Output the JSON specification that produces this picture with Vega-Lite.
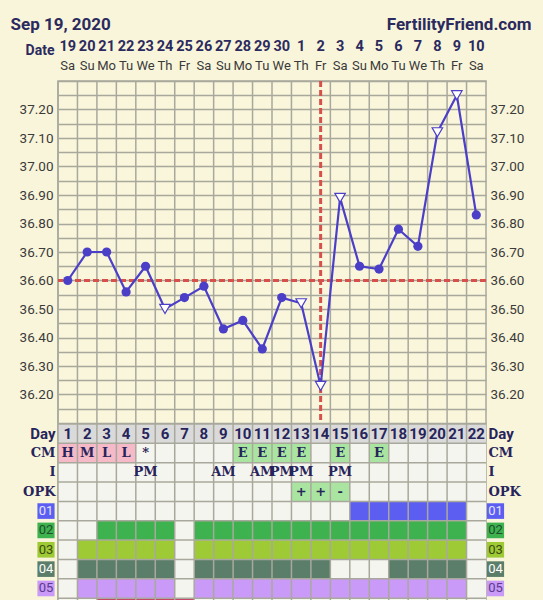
{
  "$schema": "https://vega.github.io/schema/vega-lite/v6.json",
  "width": 428,
  "height": 519,
  "autosize": {"type": "none"},
  "padding": {"left": 58, "top": 81, "right": 57, "bottom": 0},
  "background": "#f9f5da",
  "config": {"view": {"fill": "#faf6dc", "stroke": "#a9a89c", "strokeWidth": 1.5}, "text": {"font": "Roboto"}},
  "datasets": {
    "temps": [
      {"day": 1, "temp": 36.60, "m": "c"}, {"day": 2, "temp": 36.70, "m": "c"}, {"day": 3, "temp": 36.70, "m": "c"},
      {"day": 4, "temp": 36.56, "m": "c"}, {"day": 5, "temp": 36.65, "m": "c"}, {"day": 6, "temp": 36.50, "m": "t"},
      {"day": 7, "temp": 36.54, "m": "c"}, {"day": 8, "temp": 36.58, "m": "c"}, {"day": 9, "temp": 36.43, "m": "c"},
      {"day": 10, "temp": 36.46, "m": "c"}, {"day": 11, "temp": 36.36, "m": "c"}, {"day": 12, "temp": 36.54, "m": "c"},
      {"day": 13, "temp": 36.52, "m": "t"}, {"day": 14, "temp": 36.23, "m": "t"}, {"day": 15, "temp": 36.89, "m": "t"},
      {"day": 16, "temp": 36.65, "m": "c"}, {"day": 17, "temp": 36.64, "m": "c"}, {"day": 18, "temp": 36.78, "m": "c"},
      {"day": 19, "temp": 36.72, "m": "c"}, {"day": 20, "temp": 37.12, "m": "t"}, {"day": 21, "temp": 37.25, "m": "t"},
      {"day": 22, "temp": 36.83, "m": "c"}
    ],
    "days": [
      {"day": 1, "date": "19", "wd": "Sa"}, {"day": 2, "date": "20", "wd": "Su"}, {"day": 3, "date": "21", "wd": "Mo"},
      {"day": 4, "date": "22", "wd": "Tu"}, {"day": 5, "date": "23", "wd": "We"}, {"day": 6, "date": "24", "wd": "Th"},
      {"day": 7, "date": "25", "wd": "Fr"}, {"day": 8, "date": "26", "wd": "Sa"}, {"day": 9, "date": "27", "wd": "Su"},
      {"day": 10, "date": "28", "wd": "Mo"}, {"day": 11, "date": "29", "wd": "Tu"}, {"day": 12, "date": "30", "wd": "We"},
      {"day": 13, "date": "1", "wd": "Th"}, {"day": 14, "date": "2", "wd": "Fr"}, {"day": 15, "date": "3", "wd": "Sa"},
      {"day": 16, "date": "4", "wd": "Su"}, {"day": 17, "date": "5", "wd": "Mo"}, {"day": 18, "date": "6", "wd": "Tu"},
      {"day": 19, "date": "7", "wd": "We"}, {"day": 20, "date": "8", "wd": "Th"}, {"day": 21, "date": "9", "wd": "Fr"},
      {"day": 22, "date": "10", "wd": "Sa"}
    ],
    "rows": [
      {"row": "Day"}, {"row": "CM"}, {"row": "I"}, {"row": "OPK"}, {"row": "01"},
      {"row": "02"}, {"row": "03"}, {"row": "04"}, {"row": "05"}, {"row": "06"}
    ],
    "cover": [{"temp": 36.6}],
    "ovul": [{"day": 14}],
    "cells": [
      {"row": "CM", "day": 1, "k": "H"}, {"row": "CM", "day": 2, "k": "M"}, {"row": "CM", "day": 3, "k": "L"}, {"row": "CM", "day": 4, "k": "L"},
      {"row": "CM", "day": 10, "k": "E"}, {"row": "CM", "day": 11, "k": "E"}, {"row": "CM", "day": 12, "k": "E"}, {"row": "CM", "day": 13, "k": "E"},
      {"row": "CM", "day": 15, "k": "E"}, {"row": "CM", "day": 17, "k": "E"},
      {"row": "OPK", "day": 13, "k": "+"}, {"row": "OPK", "day": 14, "k": "+"}, {"row": "OPK", "day": 15, "k": "-"},
      {"row": "01", "day": 16, "k": "01"}, {"row": "01", "day": 17, "k": "01"}, {"row": "01", "day": 18, "k": "01"},
      {"row": "01", "day": 19, "k": "01"}, {"row": "01", "day": 20, "k": "01"}, {"row": "01", "day": 21, "k": "01"},
      {"row": "02", "day": 3, "k": "02"}, {"row": "02", "day": 4, "k": "02"}, {"row": "02", "day": 5, "k": "02"}, {"row": "02", "day": 6, "k": "02"},
      {"row": "02", "day": 8, "k": "02"}, {"row": "02", "day": 9, "k": "02"}, {"row": "02", "day": 10, "k": "02"}, {"row": "02", "day": 11, "k": "02"},
      {"row": "02", "day": 12, "k": "02"}, {"row": "02", "day": 13, "k": "02"}, {"row": "02", "day": 14, "k": "02"}, {"row": "02", "day": 15, "k": "02"},
      {"row": "02", "day": 16, "k": "02"}, {"row": "02", "day": 17, "k": "02"}, {"row": "02", "day": 18, "k": "02"}, {"row": "02", "day": 19, "k": "02"},
      {"row": "02", "day": 20, "k": "02"}, {"row": "02", "day": 21, "k": "02"},
      {"row": "03", "day": 2, "k": "03"}, {"row": "03", "day": 3, "k": "03"}, {"row": "03", "day": 4, "k": "03"}, {"row": "03", "day": 5, "k": "03"},
      {"row": "03", "day": 6, "k": "03"}, {"row": "03", "day": 8, "k": "03"}, {"row": "03", "day": 9, "k": "03"}, {"row": "03", "day": 10, "k": "03"},
      {"row": "03", "day": 11, "k": "03"}, {"row": "03", "day": 12, "k": "03"}, {"row": "03", "day": 13, "k": "03"}, {"row": "03", "day": 14, "k": "03"},
      {"row": "03", "day": 15, "k": "03"}, {"row": "03", "day": 16, "k": "03"}, {"row": "03", "day": 17, "k": "03"}, {"row": "03", "day": 18, "k": "03"},
      {"row": "03", "day": 19, "k": "03"}, {"row": "03", "day": 20, "k": "03"}, {"row": "03", "day": 21, "k": "03"},
      {"row": "04", "day": 2, "k": "04"}, {"row": "04", "day": 3, "k": "04"}, {"row": "04", "day": 4, "k": "04"}, {"row": "04", "day": 5, "k": "04"},
      {"row": "04", "day": 6, "k": "04"}, {"row": "04", "day": 8, "k": "04"}, {"row": "04", "day": 9, "k": "04"}, {"row": "04", "day": 10, "k": "04"},
      {"row": "04", "day": 11, "k": "04"}, {"row": "04", "day": 12, "k": "04"}, {"row": "04", "day": 13, "k": "04"}, {"row": "04", "day": 14, "k": "04"},
      {"row": "04", "day": 18, "k": "04"}, {"row": "04", "day": 19, "k": "04"}, {"row": "04", "day": 20, "k": "04"}, {"row": "04", "day": 21, "k": "04"},
      {"row": "05", "day": 2, "k": "05"}, {"row": "05", "day": 3, "k": "05"}, {"row": "05", "day": 4, "k": "05"}, {"row": "05", "day": 5, "k": "05"},
      {"row": "05", "day": 6, "k": "05"}, {"row": "05", "day": 8, "k": "05"}, {"row": "05", "day": 9, "k": "05"}, {"row": "05", "day": 10, "k": "05"},
      {"row": "05", "day": 11, "k": "05"}, {"row": "05", "day": 12, "k": "05"}, {"row": "05", "day": 13, "k": "05"}, {"row": "05", "day": 14, "k": "05"},
      {"row": "05", "day": 15, "k": "05"}, {"row": "05", "day": 16, "k": "05"}, {"row": "05", "day": 17, "k": "05"}, {"row": "05", "day": 18, "k": "05"},
      {"row": "05", "day": 19, "k": "05"}, {"row": "05", "day": 20, "k": "05"}, {"row": "05", "day": 21, "k": "05"},
      {"row": "06", "day": 3, "k": "06"}, {"row": "06", "day": 4, "k": "06"}, {"row": "06", "day": 5, "k": "06"}, {"row": "06", "day": 6, "k": "06"},
      {"row": "06", "day": 7, "k": "06"}
    ],
    "texts": [
      {"row": "CM", "day": 1, "t": "H"}, {"row": "CM", "day": 2, "t": "M"}, {"row": "CM", "day": 3, "t": "L"}, {"row": "CM", "day": 4, "t": "L"},
      {"row": "CM", "day": 5, "t": "*"}, {"row": "CM", "day": 10, "t": "E"}, {"row": "CM", "day": 11, "t": "E"}, {"row": "CM", "day": 12, "t": "E"},
      {"row": "CM", "day": 13, "t": "E"}, {"row": "CM", "day": 15, "t": "E"}, {"row": "CM", "day": 17, "t": "E"},
      {"row": "I", "day": 5, "t": "PM"}, {"row": "I", "day": 9, "t": "AM"}, {"row": "I", "day": 11, "t": "AM"}, {"row": "I", "day": 12, "t": "PM"},
      {"row": "I", "day": 13, "t": "PM"}, {"row": "I", "day": 15, "t": "PM"},
      {"row": "OPK", "day": 13, "t": "+"}, {"row": "OPK", "day": 14, "t": "+"}, {"row": "OPK", "day": 15, "t": "-"}
    ],
    "badges": [
      {"row": "01", "side": "L"}, {"row": "02", "side": "L"}, {"row": "03", "side": "L"}, {"row": "04", "side": "L"}, {"row": "05", "side": "L"},
      {"row": "01", "side": "R"}, {"row": "02", "side": "R"}, {"row": "03", "side": "R"}, {"row": "04", "side": "R"}, {"row": "05", "side": "R"}
    ]
  },
  "resolve": {"scale": {"x": "independent", "y": "independent", "color": "independent"}, "axis": {"x": "independent", "y": "independent"}},
  "layer": [
    {
      "data": {"name": "rows"},
      "mark": {"type": "rect"},
      "encoding": {
        "y": {"field": "row", "type": "nominal",
          "scale": {"type": "band", "domain": ["Day", "CM", "I", "OPK", "01", "02", "03", "04", "05", "06"], "range": [343, 536.5], "paddingInner": 0, "paddingOuter": 0},
          "axis": {"orient": "left", "ticks": false, "domain": false, "grid": false, "title": null, "labelOverlap": false,
            "labelExpr": "indexof(['01','02','03','04','05','06'], datum.value) >= 0 ? '' : datum.value",
            "labelFont": {"condition": {"test": "datum.value == 'Day'", "value": "Roboto"}, "value": "DejaVu Serif"},
            "labelFontSize": {"condition": {"test": "datum.value == 'Day'", "value": 15}, "value": 13},
            "labelFontWeight": "bold", "labelColor": "#26245a", "labelPadding": 3}},
        "color": {"condition": {"test": "datum.row == 'Day'", "value": "#dadada"}, "value": "#f5f5ef"}
      }
    },
    {
      "data": {"name": "cells"},
      "mark": {"type": "rect"},
      "encoding": {
        "x": {"field": "day", "type": "ordinal", "scale": {"type": "band", "domain": [1,2,3,4,5,6,7,8,9,10,11,12,13,14,15,16,17,18,19,20,21,22], "paddingInner": 0, "paddingOuter": 0}, "axis": null},
        "y": {"field": "row", "type": "nominal",
          "scale": {"type": "band", "domain": ["Day", "CM", "I", "OPK", "01", "02", "03", "04", "05", "06"], "range": [343, 536.5], "paddingInner": 0, "paddingOuter": 0},
          "axis": null},
        "color": {"field": "k", "type": "nominal", "legend": null,
          "scale": {"domain": ["H", "M", "L", "E", "+", "-", "01", "02", "03", "04", "05", "06"],
            "range": ["#f5b9c7", "#f5b9c7", "#f5b9c7", "#a9e5a0", "#a9e5a0", "#a9e5a0", "#5c5ef2", "#3db24f", "#9dca35", "#5b7e6b", "#c99af7", "#c8466a"]}}
      }
    },
    {
      "data": {"name": "days"},
      "mark": {"type": "rule", "color": "#a9a89c", "strokeWidth": 1.5},
      "encoding": {
        "x": {"field": "day", "type": "ordinal", "bandPosition": 0,
          "scale": {"type": "band", "domain": [1,2,3,4,5,6,7,8,9,10,11,12,13,14,15,16,17,18,19,20,21,22], "paddingInner": 0, "paddingOuter": 0}, "axis": null}
      }
    },
    {
      "data": {"name": "rows"},
      "mark": {"type": "rule", "color": "#a9a89c", "strokeWidth": 1.5},
      "encoding": {
        "y": {"field": "row", "type": "nominal", "bandPosition": 0,
          "scale": {"type": "band", "domain": ["Day", "CM", "I", "OPK", "01", "02", "03", "04", "05", "06"], "range": [343, 536.5], "paddingInner": 0, "paddingOuter": 0},
          "axis": {"orient": "right", "ticks": false, "domain": false, "grid": false, "title": null, "labelOverlap": false,
            "labelExpr": "indexof(['01','02','03','04','05','06'], datum.value) >= 0 ? '' : datum.value",
            "labelFont": {"condition": {"test": "datum.value == 'Day'", "value": "Roboto"}, "value": "DejaVu Serif"},
            "labelFontSize": {"condition": {"test": "datum.value == 'Day'", "value": 15}, "value": 13},
            "labelFontWeight": "bold", "labelColor": "#26245a", "labelPadding": 2}}
      }
    },
    {
      "data": {"name": "days"},
      "mark": {"type": "text", "font": "Roboto", "fontWeight": "bold", "fontSize": 15, "color": "#26245a", "baseline": "middle"},
      "encoding": {
        "x": {"field": "day", "type": "ordinal",
          "scale": {"type": "band", "domain": [1,2,3,4,5,6,7,8,9,10,11,12,13,14,15,16,17,18,19,20,21,22], "paddingInner": 0, "paddingOuter": 0}, "axis": null},
        "y": {"datum": "Day", "type": "nominal",
          "scale": {"type": "band", "domain": ["Day", "CM", "I", "OPK", "01", "02", "03", "04", "05", "06"], "range": [343, 536.5], "paddingInner": 0, "paddingOuter": 0},
          "axis": null},
        "text": {"field": "day", "type": "nominal"}
      }
    },
    {
      "data": {"name": "texts"},
      "mark": {"type": "text", "font": "DejaVu Serif", "fontWeight": "bold", "fontSize": 13, "color": "#26245a", "baseline": "middle"},
      "encoding": {
        "x": {"field": "day", "type": "ordinal",
          "scale": {"type": "band", "domain": [1,2,3,4,5,6,7,8,9,10,11,12,13,14,15,16,17,18,19,20,21,22], "paddingInner": 0, "paddingOuter": 0}, "axis": null},
        "y": {"field": "row", "type": "nominal",
          "scale": {"type": "band", "domain": ["Day", "CM", "I", "OPK", "01", "02", "03", "04", "05", "06"], "range": [343, 536.5], "paddingInner": 0, "paddingOuter": 0},
          "axis": null},
        "text": {"field": "t", "type": "nominal"}
      }
    },
    {
      "data": {"name": "cover"},
      "mark": {"type": "rule", "color": "#d6504c", "strokeWidth": 3, "strokeDash": [6, 3]},
      "encoding": {
        "y": {"field": "temp", "type": "quantitative",
          "scale": {"type": "linear", "domain": [36.1, 37.3], "range": [342, 0], "nice": false, "zero": false},
          "axis": {"orient": "left", "values": [36.1, 36.15, 36.2, 36.25, 36.3, 36.35, 36.4, 36.45, 36.5, 36.55, 36.6, 36.65, 36.7, 36.75, 36.8, 36.85, 36.9, 36.95, 37.0, 37.05, 37.1, 37.15, 37.2, 37.25, 37.3],
            "grid": true, "gridColor": "#a9a89c", "gridWidth": 1.5, "ticks": false, "domain": false, "title": null,
            "labelOverlap": false, "labelFlush": false,
            "labelExpr": "(datum.value > 36.15 && datum.value < 37.25 && abs(datum.value * 10 - round(datum.value * 10)) < 0.01) ? format(datum.value, '.2f') : ''",
            "labelFont": "Roboto", "labelFontSize": 13.5, "labelColor": "#3b3b3b", "labelPadding": 5}}
      }
    },
    {
      "data": {"name": "ovul"},
      "mark": {"type": "rule", "color": "#d6504c", "strokeWidth": 3, "strokeDash": [6, 3]},
      "encoding": {
        "x": {"field": "day", "type": "ordinal",
          "scale": {"type": "band", "domain": [1,2,3,4,5,6,7,8,9,10,11,12,13,14,15,16,17,18,19,20,21,22], "paddingInner": 0, "paddingOuter": 0}, "axis": null},
        "y": {"datum": 37.3, "type": "quantitative",
          "scale": {"type": "linear", "domain": [36.1, 37.3], "range": [342, 0], "nice": false, "zero": false}, "axis": null},
        "y2": {"datum": 36.1}
      }
    },
    {
      "data": {"name": "temps"},
      "mark": {"type": "line", "color": "#4b3fc8", "strokeWidth": 2.2},
      "encoding": {
        "x": {"field": "day", "type": "ordinal",
          "scale": {"type": "band", "domain": [1,2,3,4,5,6,7,8,9,10,11,12,13,14,15,16,17,18,19,20,21,22], "paddingInner": 0, "paddingOuter": 0},
          "axis": {"orient": "top", "labels": false, "ticks": false, "domain": false, "grid": false,
            "title": "FertilityFriend.com", "titleX": 473, "titleY": -52, "titleAlign": "right", "titleBaseline": "alphabetic",
            "titleFont": "Roboto", "titleFontSize": 17, "titleFontWeight": "bold", "titleColor": "#2b2a5e"}},
        "y": {"field": "temp", "type": "quantitative",
          "scale": {"type": "linear", "domain": [36.1, 37.3], "range": [342, 0], "nice": false, "zero": false}, "axis": null}
      }
    },
    {
      "data": {"name": "temps"},
      "transform": [{"filter": "datum.m == 'c'"}],
      "mark": {"type": "point", "shape": "circle", "filled": true, "color": "#4b3fc8", "size": 85, "opacity": 1},
      "encoding": {
        "x": {"field": "day", "type": "ordinal",
          "scale": {"type": "band", "domain": [1,2,3,4,5,6,7,8,9,10,11,12,13,14,15,16,17,18,19,20,21,22], "paddingInner": 0, "paddingOuter": 0}, "axis": null},
        "y": {"field": "temp", "type": "quantitative",
          "scale": {"type": "linear", "domain": [36.1, 37.3], "range": [342, 0], "nice": false, "zero": false}, "axis": null}
      }
    },
    {
      "data": {"name": "temps"},
      "transform": [{"filter": "datum.m == 't'"}],
      "mark": {"type": "point", "shape": "triangle-down", "filled": true, "fill": "#ffffff", "stroke": "#4b3fc8", "strokeWidth": 1.2, "size": 110, "opacity": 1},
      "encoding": {
        "x": {"field": "day", "type": "ordinal",
          "scale": {"type": "band", "domain": [1,2,3,4,5,6,7,8,9,10,11,12,13,14,15,16,17,18,19,20,21,22], "paddingInner": 0, "paddingOuter": 0}, "axis": null},
        "y": {"field": "temp", "type": "quantitative",
          "scale": {"type": "linear", "domain": [36.1, 37.3], "range": [342, 0], "nice": false, "zero": false},
          "axis": {"orient": "right", "values": [36.2, 36.3, 36.4, 36.5, 36.6, 36.7, 36.8, 36.9, 37.0, 37.1, 37.2],
            "grid": false, "ticks": false, "domain": false, "title": null, "labelOverlap": false, "labelFlush": false,
            "format": ".2f", "labelFont": "Roboto", "labelFontSize": 13.5, "labelColor": "#3b3b3b", "labelPadding": 4}}
      }
    },
    {
      "data": {"name": "days"},
      "mark": {"type": "text", "font": "Roboto", "fontWeight": "bold", "fontSize": 14.5, "color": "#2b2a5e", "baseline": "middle"},
      "encoding": {
        "x": {"field": "day", "type": "ordinal",
          "scale": {"type": "band", "domain": [1,2,3,4,5,6,7,8,9,10,11,12,13,14,15,16,17,18,19,20,21,22], "paddingInner": 0, "paddingOuter": 0}, "axis": null},
        "y": {"datum": "d", "type": "nominal",
          "scale": {"type": "band", "domain": ["d", "w"], "range": [-43.5, -5.5], "paddingInner": 0, "paddingOuter": 0},
          "axis": {"orient": "left", "ticks": false, "domain": false, "grid": false, "labelOverlap": false,
            "labelExpr": "datum.value == 'd' ? 'Date' : ''", "labelFont": "Roboto", "labelFontWeight": "bold", "labelFontSize": 14,
            "labelColor": "#2b2a5e", "labelPadding": 4, "labelOffset": 4,
            "title": "Sep 19, 2020", "titleAngle": 0, "titleX": -48, "titleY": -52, "titleAlign": "left", "titleBaseline": "alphabetic",
            "titleFont": "Roboto", "titleFontSize": 17, "titleFontWeight": "bold", "titleColor": "#2b2a5e"}},
        "text": {"field": "date", "type": "nominal"}
      }
    },
    {
      "data": {"name": "days"},
      "mark": {"type": "text", "font": "Roboto", "fontSize": 13, "color": "#3a3a3a", "baseline": "middle"},
      "encoding": {
        "x": {"field": "day", "type": "ordinal",
          "scale": {"type": "band", "domain": [1,2,3,4,5,6,7,8,9,10,11,12,13,14,15,16,17,18,19,20,21,22], "paddingInner": 0, "paddingOuter": 0}, "axis": null},
        "y": {"datum": "w", "type": "nominal",
          "scale": {"type": "band", "domain": ["d", "w"], "range": [-43.5, -5.5], "paddingInner": 0, "paddingOuter": 0}, "axis": null},
        "text": {"field": "wd", "type": "nominal"}
      }
    },
    {
      "data": {"name": "badges"},
      "mark": {"type": "point", "shape": "M-1,-0.91L1,-0.91L1,0.91L-1,0.91Z", "filled": true, "size": 295, "opacity": 1},
      "encoding": {
        "x": {"field": "side", "type": "nominal", "scale": {"type": "point", "domain": ["L", "R"], "range": [-12, 437.5], "padding": 0}, "axis": null},
        "y": {"field": "row", "type": "nominal",
          "scale": {"type": "band", "domain": ["Day", "CM", "I", "OPK", "01", "02", "03", "04", "05", "06"], "range": [343, 536.5], "paddingInner": 0, "paddingOuter": 0},
          "axis": null},
        "color": {"field": "row", "type": "nominal", "legend": null,
          "scale": {"domain": ["01", "02", "03", "04", "05"], "range": ["#5c5ef2", "#3db24f", "#9dca35", "#5b7e6b", "#c99af7"]}}
      }
    },
    {
      "data": {"name": "badges"},
      "mark": {"type": "text", "font": "Roboto", "fontSize": 13, "baseline": "middle"},
      "encoding": {
        "x": {"field": "side", "type": "nominal", "scale": {"type": "point", "domain": ["L", "R"], "range": [-12, 437.5], "padding": 0}, "axis": null},
        "y": {"field": "row", "type": "nominal",
          "scale": {"type": "band", "domain": ["Day", "CM", "I", "OPK", "01", "02", "03", "04", "05", "06"], "range": [343, 536.5], "paddingInner": 0, "paddingOuter": 0},
          "axis": null},
        "text": {"field": "row", "type": "nominal"},
        "color": {"field": "row", "type": "nominal", "legend": null,
          "scale": {"domain": ["01", "02", "03", "04", "05"], "range": ["#e4e4ff", "#1f4d2a", "#3d4a14", "#ffffff", "#5b3a8c"]}}
      }
    }
  ]
}
